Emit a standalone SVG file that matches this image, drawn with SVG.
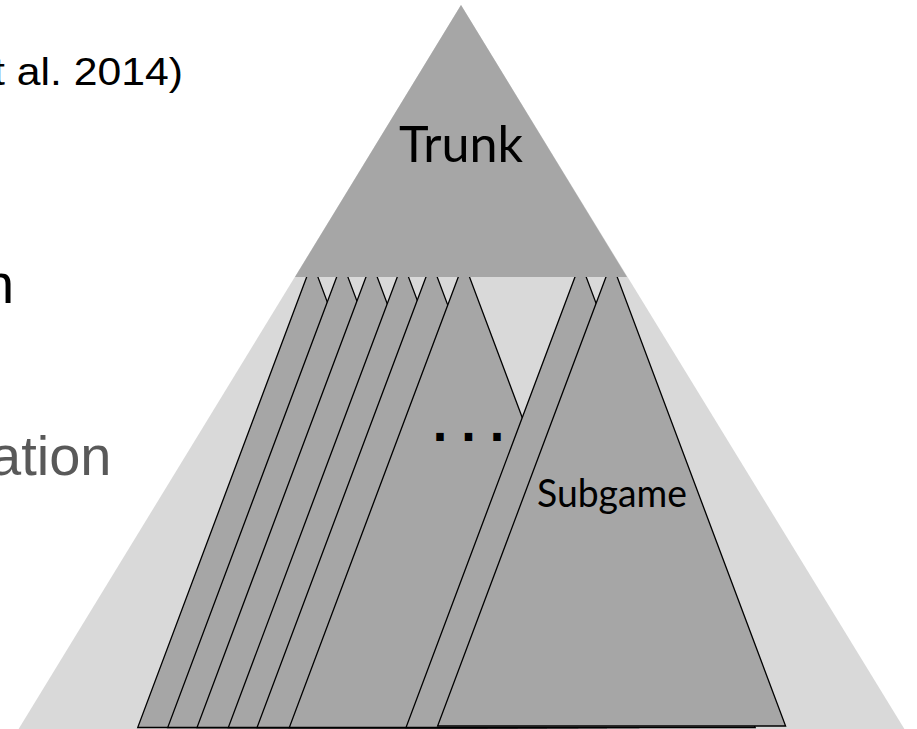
<svg xmlns="http://www.w3.org/2000/svg" width="917" height="729" viewBox="0 0 917 729">
  <style>
    .bg { fill: #ffffff; }
    .field { fill: #d9d9d9; }
    .trunk { fill: #a6a6a6; }
    .sub { fill: #a6a6a6; stroke: #000000; stroke-width: 1.3; stroke-linejoin: miter; }
    .gill { font-family: "Lato", "Open Sans", "DejaVu Sans", sans-serif; fill: #000000; }
    .slide { font-family: "Liberation Sans", Arial, sans-serif; }
    .dots { font-family: "DejaVu Sans", sans-serif; font-weight: bold; fill: #000000; }
  </style>

  <rect class="bg" x="0" y="0" width="917" height="729"/>

  <!-- slide text, partly clipped at the left edge -->
  <g id="slide-text">
    <text class="slide" x="183" y="85" font-size="38" text-anchor="end" textLength="190" lengthAdjust="spacingAndGlyphs" fill="#000000">t al. 2014)</text>
    <text class="slide" x="-17" y="303" font-size="56" fill="#000000">n</text>
    <text class="slide" x="-10" y="475" font-size="56" fill="#595959">ation</text>
  </g>

  <!-- full game tree (light background triangle) -->
  <g id="game-tree">
    <polygon class="field" points="461,5 18,730 905,730"/>
  </g>

  <!-- subgame triangles, each drawn on top of the previous one -->
  <g id="subgames">
    <g id="subgame-1"><polygon class="sub" points="312.3,262 137.7,727.5 486.9,727.5"/></g>
    <g id="subgame-2"><polygon class="sub" points="342.3,262 167.7,727.5 516.9,727.5"/></g>
    <g id="subgame-3"><polygon class="sub" points="371.6,262 197,727.5 546.2,727.5"/></g>
    <g id="subgame-4"><polygon class="sub" points="402.9,262 228.3,727.5 577.5,727.5"/></g>
    <g id="subgame-5"><polygon class="sub" points="431.6,262 257,727.5 606.2,727.5"/></g>
    <g id="subgame-6"><polygon class="sub" points="463.9,262 289.3,727.5 638.5,727.5"/></g>
    <g id="subgame-7"><polygon class="sub" points="580.6,262 406,727.5 755.2,727.5"/></g>
    <g id="subgame-main">
      <polygon class="sub" points="611.6,262 437.6,726 785.6,726"/>
      <text class="gill" x="612" y="507" font-size="38" text-anchor="middle" textLength="150" lengthAdjust="spacingAndGlyphs">Subgame</text>
    </g>
  </g>

  <!-- ellipsis between the subgames -->
  <g id="ellipsis">
    <text class="dots" x="432" y="441" font-size="42" letter-spacing="12.5">...</text>
  </g>

  <!-- trunk of the game tree -->
  <g id="trunk">
    <polygon class="trunk" points="461,5 295,277 627,277"/>
    <text class="gill" x="461" y="162" font-size="51" text-anchor="middle" textLength="124" lengthAdjust="spacingAndGlyphs">Trunk</text>
  </g>
</svg>
